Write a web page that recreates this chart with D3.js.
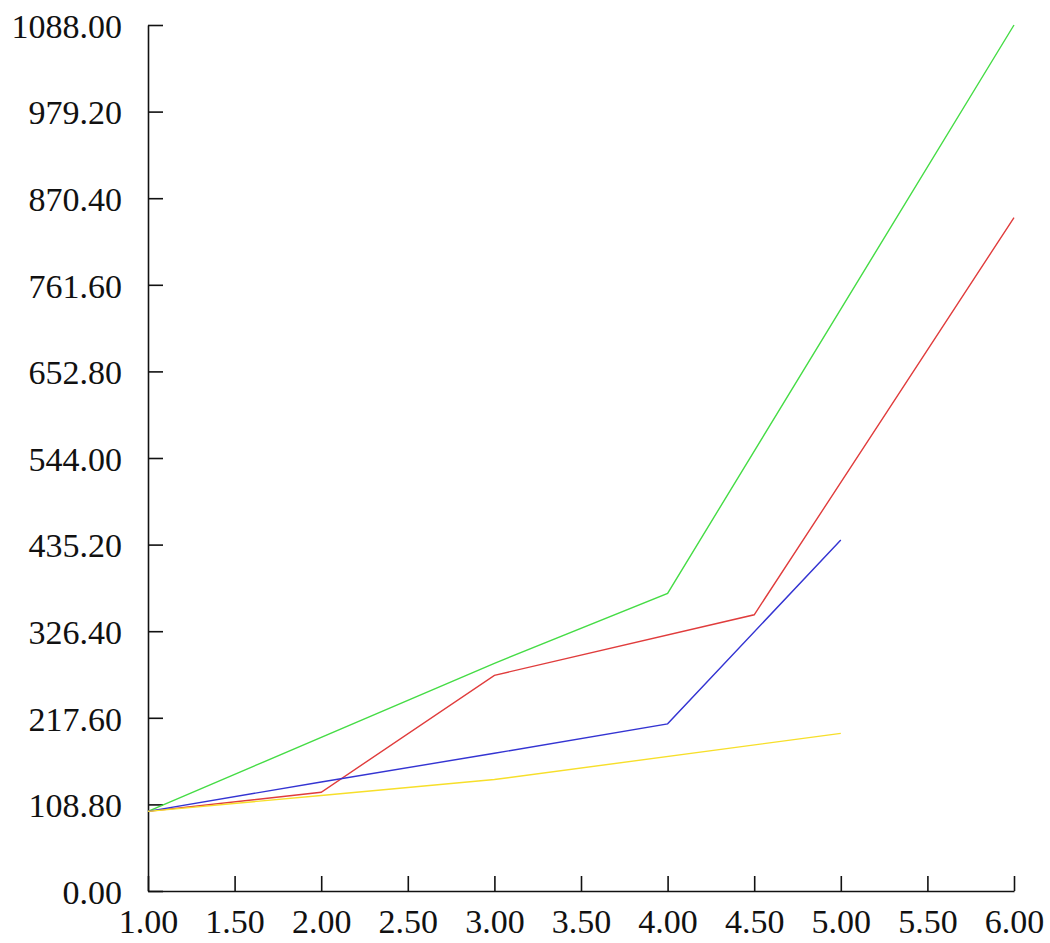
<!DOCTYPE html>
<html>
<head>
<meta charset="utf-8">
<script src="https://cdn.jsdelivr.net/npm/d3@7"></script>
<style>
  html, body { margin: 0; padding: 0; background: #fff; }
  svg { display: block; }
  .tick text { font-family: "Liberation Serif", "Times New Roman", serif; fill: #111; }
</style>
</head>
<body>
<svg id="chart" width="1050" height="943"></svg>
<script>
// ---- data ----
const xTicks = [1.0, 1.5, 2.0, 2.5, 3.0, 3.5, 4.0, 4.5, 5.0, 5.5, 6.0];
const yTicks = [0, 108.8, 217.6, 326.4, 435.2, 544.0, 652.8, 761.6, 870.4, 979.2, 1088.0];

const greenX = [1, 3, 4, 6];
const greenY = [100, 286, 374, 1088];
const redX = [1, 2, 3, 4.5, 6];
const redY = [100, 124, 271, 347, 846];
const blueX = [1, 2, 3, 4, 5];
const blueY = [100, 137, 173, 210, 441];
const yellowX = [1, 2, 3, 5];
const yellowY = [100, 120, 140, 198];

const seriesList = [
  { name: "green", xs: greenX, ys: greenY, color: "#45dc45" },
  { name: "red", xs: redX, ys: redY, color: "#e03c3c" },
  { name: "blue", xs: blueX, ys: blueY, color: "#3434d2" },
  { name: "yellow", xs: yellowX, ys: yellowY, color: "#f7df2a" }
];

// ---- layout ----
const plotLeft = 148, plotRight = 1014, plotTop = 25, plotBottom = 891;
const svg = d3.select("#chart");

const x = d3.scaleLinear().domain([1, 6]).range([plotLeft, plotRight]);
const y = d3.scaleLinear().domain([0, 1088]).range([plotBottom, plotTop]);

// axes (ticks point inward)
const xAxis = d3.axisBottom(x).tickValues(xTicks).tickFormat(d3.format(".2f"))
  .tickSizeInner(-15).tickSizeOuter(0);
const yAxis = d3.axisLeft(y).tickValues(yTicks).tickFormat(d3.format(".2f"))
  .tickSizeInner(-15).tickSizeOuter(0);

const gx = svg.append("g").attr("transform", `translate(0,${plotBottom})`).call(xAxis);
const gy = svg.append("g").attr("transform", `translate(${plotLeft},0)`).call(yAxis);

[gx, gy].forEach(g => {
  g.select(".domain").attr("stroke", "#111").attr("stroke-width", 1.6);
  g.selectAll(".tick line").attr("stroke", "#111").attr("stroke-width", 1.6);
  g.selectAll(".tick text").attr("fill", "#111");
});
gx.selectAll(".tick text").style("font-size", "34px").attr("y", 18).attr("dy", "0.71em");
gy.selectAll(".tick text").style("font-size", "34px").attr("x", -26).attr("dy", "0.36em");

// lines
const line = d3.line().x(d => x(d[0])).y(d => y(d[1]));
seriesList.forEach(s => {
  const pts = s.xs.map((v, i) => [v, s.ys[i]]);
  svg.append("path")
    .datum(pts)
    .attr("fill", "none")
    .attr("stroke", s.color)
    .attr("stroke-width", 1.4)
    .attr("d", line);
});
</script>
</body>
</html>
